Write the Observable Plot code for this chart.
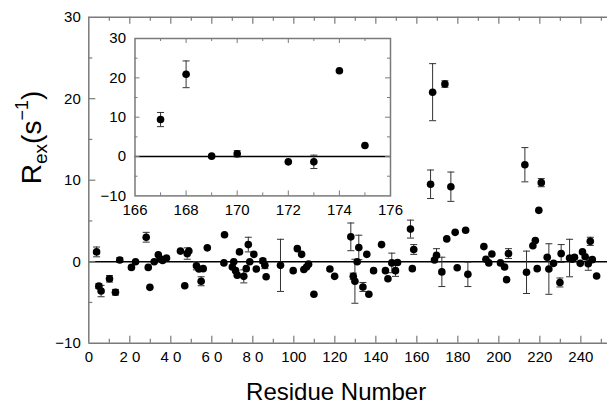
<!DOCTYPE html>
<html><head><meta charset="utf-8">
<script src="https://cdn.jsdelivr.net/npm/d3@7"></script>
<script src="https://cdn.jsdelivr.net/npm/@observablehq/plot@0.6"></script>
<style>
body{margin:0;background:#fff;}
#wrap{position:relative;width:607px;height:409px;}
</style></head><body><div id="wrap"></div>
<script>
// ---- main panel data: residue number, Rex (s^-1), error (0 = no bar)
const residue = [3.8,4.9,6.0,10.1,13.0,15.1,20.8,22.8,28.0,29.0,29.8,31.9,33.9,34.8,36.0,37.9,44.7,46.8,48.0,48.8,
  52.5,53.7,54.8,55.8,57.8,66.2,65.9,70.0,70.7,71.6,72.4,73.5,75.6,76.8,77.8,78.5,80.5,81.7,84.9,85.9,
  86.5,93.5,99.7,101.7,103.8,104.9,106.2,107.2,109.8,117.6,119.9,127.8,129.0,129.8,130.9,131.7,133.7,135.6,136.6,138.9,
  142.8,144.7,145.9,147.8,149.6,150.6,156.9,158.5,157.8,167.7,173.7,166.7,176.6,212.7,220.7,219.5,174.6,178.7,183.8,192.7,
  216.6,217.8,244.6,169.6,168.6,172.2,179.7,184.9,193.7,195.1,196.6,200.8,202.8,203.8,204.7,213.5,218.7,223.6,224.4,226.7,
  229.8,230.4,234.5,235.8,236.9,239.7,240.8,242.1,243.6,245.6,247.7];
const rex = [1.2,-3.0,-3.6,-2.1,-3.75,0.2,-0.7,0.0,3.0,-0.7,-3.15,0.0,0.85,0.35,0.15,0.45,1.3,-2.95,1.0,1.3,
  -0.5,-0.9,-2.4,-0.85,1.7,3.3,-0.15,-0.65,0.0,-1.1,-1.65,1.2,-1.8,-0.85,2.1,0.0,0.9,-0.9,0.1,-0.45,
  -1.85,-0.45,-1.1,1.6,0.9,-0.95,-0.65,-0.3,-4.0,-0.9,-1.8,3.05,-1.8,-2.4,0.0,1.75,-3.1,0.9,-4.0,-1.1,
  2.1,-1.1,-2.1,-0.15,-1.1,-0.1,4.0,1.5,-0.85,20.8,21.8,9.5,9.2,11.9,9.7,6.3,2.8,3.6,3.85,1.85,
  1.95,2.6,2.5,0.8,0.2,-1.25,-0.75,-1.55,0.3,-0.15,0.95,-0.15,-0.65,-2.2,1.0,-1.3,-0.85,0.55,-0.9,-0.2,
  -2.55,1.0,0.45,0.3,0.55,-0.2,1.2,0.6,-0.25,0.25,-1.75];
const rexErr = [0.6,0.3,0.7,0.4,0.35,0.3,0,0,0.6,0,0,0,0,0,0,0,0,0,0.7,0,
  0.5,0,0.55,0,0,0,0,0,0,0,0,0,0.8,0,0.9,0,0,0,0.3,0.4,
  0,3.2,0,0,0,0,0,0,0,0,0,1.7,0.4,2.7,0,1.5,0.55,0,0,0,
  0,0,0,1.2,0.7,0,1.1,0.6,0,3.5,0.4,1.75,1.8,2.1,0.5,0,0,0,0,0,
  0,0,0.5,0.8,0,1.8,0,1.5,0,0,0,0,0,0,0.6,2.6,0,0,3.1,0,
  0.55,1.1,2.3,0,0,0,0,0,0.8,0,0];

// ---- inset data
const insetResidue = [167,168,169,170,172,173,174,175];
const insetRex = [9.4,20.9,0.1,0.7,-1.35,-1.35,21.8,2.8];
const insetErr = [1.8,3.4,0,0.8,0,1.7,0,0];

// ---- axes / ticks
const xDomain = [0,253];
const yDomain = [-10,30];
const xTickValues = [0,20,40,60,80,100,120,140,160,180,200,220,240];
const xTickLabels = ["0","2 0","4 0","6 0","8 0","100","120","140","160","180","200","220","240"];
const xMinorTicks = [10,30,50,70,90,110,130,150,170,190,210,230,250];
const yTickValues = [-10,0,10,20,30];
const yTickLabels = ["\u221210","0","10","20","30"];
const yMinorTicks = [-5,5,15,25];
const insetXDomain = [166,176];
const insetXTickValues = [166,168,170,172,174,176];
const insetXTickLabels = ["166","168","170","172","174","176"];
const insetXMinor = [167,169,171,173,175];
const xLabel = "Residue Number";
const yLabel = "Rex(s-1)";

const FONT = '"Liberation Sans", Arial, Helvetica, sans-serif';
const FRAME = "#7a7a7a";
const BAR = "#333";

const capSymbol = {draw(ctx, size){ const w = Math.sqrt(size/Math.PI); ctx.moveTo(-w,0); ctx.lineTo(w,0); }};

function rows(xs, ys, es){ return xs.map((x,i)=>({x, y: ys[i], e: es[i]})); }
const mainData = rows(residue, rex, rexErr);
const mainErr = mainData.filter(d=>d.e>0);
const insetData = rows(insetResidue, insetRex, insetErr);
const insetErrD = insetData.filter(d=>d.e>0);

function errMarks(data){
  return [
    Plot.ruleX(data, {x:"x", y1:d=>d.y-d.e, y2:d=>d.y+d.e, stroke:BAR, strokeWidth:1}),
    Plot.dot(data, {x:"x", y:d=>d.y+d.e, symbol:capSymbol, r:3.5, stroke:BAR, fill:"none", strokeWidth:1}),
    Plot.dot(data, {x:"x", y:d=>d.y-d.e, symbol:capSymbol, r:3.5, stroke:BAR, fill:"none", strokeWidth:1})
  ];
}

// main geometry
const W = 607, H = 409, ML = 88.3, MR = 0, MT = 16.7, MB = 66.3;
const IH = H - MT - MB, IW = W - ML - MR;
const xLabMap = new Map(xTickValues.map((v,i)=>[v, xTickLabels[i]]));
const yLabMap = new Map(yTickValues.map((v,i)=>[v, yTickLabels[i]]));

const main = Plot.plot({
  width: W, height: H,
  marginLeft: ML, marginRight: MR, marginTop: MT, marginBottom: MB,
  style: {fontFamily: FONT, fontSize: "15px", color: "#000", background: "white"},
  x: {domain: xDomain},
  y: {domain: yDomain},
  marks: [
    Plot.ruleY([0], {stroke:"#000", strokeWidth:1.5}),
    Plot.ruleY(yDomain, {stroke:FRAME, strokeWidth:1.5}),
    Plot.ruleX([xDomain[0]], {stroke:FRAME, strokeWidth:1.5}),
    // inward ticks bottom / top
    Plot.tickX(xTickValues.slice(1), {x:d=>d, insetTop: IH-7, stroke:FRAME, strokeWidth:1.2}),
    Plot.tickX(xMinorTicks, {x:d=>d, insetTop: IH-4, stroke:FRAME, strokeWidth:1.2}),
    Plot.tickX(xTickValues.slice(1), {x:d=>d, insetBottom: IH-7, stroke:FRAME, strokeWidth:1.2}),
    Plot.tickX(xMinorTicks, {x:d=>d, insetBottom: IH-4, stroke:FRAME, strokeWidth:1.2}),
    // inward ticks left
    Plot.tickY(yTickValues.slice(1,-1), {y:d=>d, insetRight: IW-7, stroke:FRAME, strokeWidth:1.2}),
    Plot.tickY(yMinorTicks, {y:d=>d, insetRight: IW-4, stroke:FRAME, strokeWidth:1.2}),
    Plot.axisX({ticks: xTickValues, tickSize: 0, tickPadding: 8, tickFormat: d=>xLabMap.get(d), fontSize: 15, label: null}),
    Plot.axisY({ticks: yTickValues, tickSize: 0, tickPadding: 8, tickFormat: d=>yLabMap.get(d), fontSize: 15, label: null}),
    ...errMarks(mainErr),
    Plot.dot(mainData, {x:"x", y:"y", r:3.8, fill:"#000", stroke:"none"}),
    Plot.text([xLabel], {text:d=>d, frameAnchor:"bottom", lineAnchor:"bottom", dy:57, dx:-12, fontSize:24}),
    Plot.text([yLabel], {text:d=>d, frameAnchor:"left", rotate:-90, dx:-57, dy:4, fontSize:28})
  ]
});

// rich text for the y label (subscript / superscript)
main.querySelectorAll("text").forEach(t => {
  if (t.textContent === yLabel) {
    while (t.firstChild) t.removeChild(t.firstChild);
    const NS = "http://www.w3.org/2000/svg";
    const parts = [["R",28,0],["ex",19,6],["(s",28,-6],["\u22121",18,-13],[")",28,13]];
    for (const [s, fs, dy] of parts) {
      const sp = document.createElementNS(NS, "tspan");
      sp.setAttribute("font-size", fs);
      if (dy) sp.setAttribute("dy", dy);
      sp.textContent = s;
      t.appendChild(sp);
    }
  }
});

// inset geometry
const iML = 40.5, iMR = 16, iMT = 10, iMB = 30;
const iIW = 255.5, iIH = 157.4;
const insetLabMap = new Map(insetXTickValues.map((v,i)=>[v, insetXTickLabels[i]]));
const insetInnerX = insetXTickValues.slice(1,-1);
const inset = Plot.plot({
  width: iML + iIW + iMR, height: iMT + iIH + iMB,
  marginLeft: iML, marginRight: iMR, marginTop: iMT, marginBottom: iMB,
  style: {fontFamily: FONT, fontSize: "15px", color: "#000", background: "transparent", position: "absolute", left: (134.5 - iML) + "px", top: (38.3 - iMT) + "px"},
  x: {domain: insetXDomain},
  y: {domain: yDomain},
  marks: [
    Plot.frame({fill:"white", stroke:"none"}),
    Plot.ruleY([0], {stroke:"#000", strokeWidth:1.5}),
    Plot.tickX(insetInnerX, {x:d=>d, insetTop: iIH-5, stroke:FRAME}),
    Plot.tickX(insetXMinor, {x:d=>d, insetTop: iIH-3, stroke:FRAME}),
    Plot.tickX(insetInnerX, {x:d=>d, insetBottom: iIH-5, stroke:FRAME}),
    Plot.tickX(insetXMinor, {x:d=>d, insetBottom: iIH-3, stroke:FRAME}),
    Plot.tickY(yTickValues.slice(1,-1), {y:d=>d, insetRight: iIW-5, stroke:FRAME}),
    Plot.tickY(yMinorTicks, {y:d=>d, insetRight: iIW-3, stroke:FRAME}),
    Plot.tickY(yTickValues.slice(1,-1), {y:d=>d, insetLeft: iIW-5, stroke:FRAME}),
    Plot.tickY(yMinorTicks, {y:d=>d, insetLeft: iIW-3, stroke:FRAME}),
    Plot.frame({stroke:FRAME, strokeWidth:1.5}),
    Plot.axisX({ticks: insetXTickValues, tickSize: 0, tickPadding: 8, tickFormat: d=>insetLabMap.get(d), fontSize: 15, label: null}),
    Plot.axisY({ticks: yTickValues, tickSize: 0, tickPadding: 9, tickFormat: d=>yLabMap.get(d), fontSize: 15, label: null}),
    ...errMarks(insetErrD),
    Plot.dot(insetData, {x:"x", y:"y", r:3.8, fill:"#000", stroke:"none"})
  ]
});

const wrap = document.getElementById("wrap");
wrap.appendChild(main);
wrap.appendChild(inset);
</script></body></html>
